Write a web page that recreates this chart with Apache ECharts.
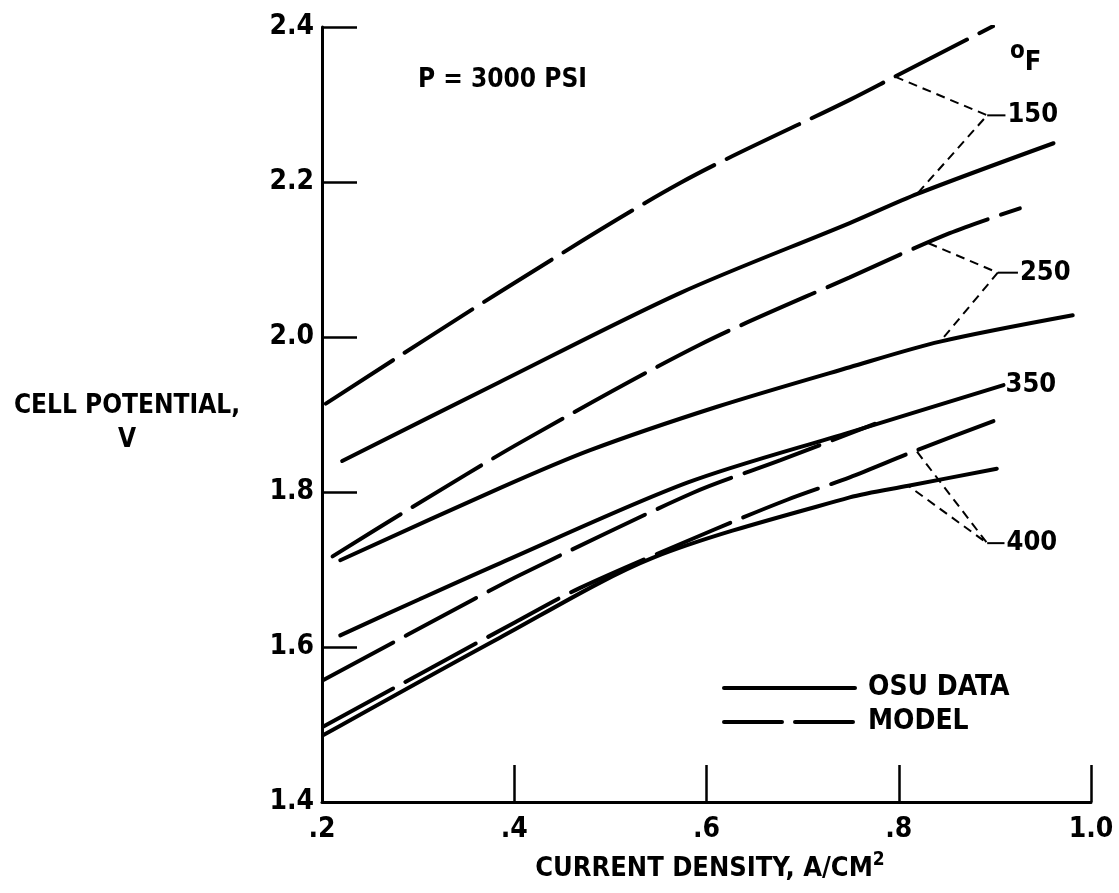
<!DOCTYPE html>
<html lang="en">
<head>
<meta charset="UTF-8">
<title>Cell potential vs current density</title>
<script src="https://cdn.jsdelivr.net/npm/echarts@6/dist/echarts.min.js"></script>
<style>
  html, body { margin: 0; padding: 0; background: #fff; }
  #main { width: 1119px; height: 893px; }
</style>
</head>
<body>
<div id="main"></div>
<script type="text/javascript">
// values: [current density A/cm2, cell potential V]
var osu150   = [[0.221,1.840],[0.385,1.942],[0.573,2.057],[0.749,2.147],[0.820,2.185],[0.961,2.250]];
var model150 = [[0.204,1.914],[0.385,2.058],[0.573,2.199],[0.749,2.306],[0.796,2.336],[0.898,2.401]];
var osu250   = [[0.219,1.712],[0.385,1.805],[0.479,1.854],[0.611,1.910],[0.749,1.961],[0.843,1.994],[0.981,2.028]];
var model250 = [[0.211,1.717],[0.292,1.779],[0.408,1.865],[0.593,1.990],[0.749,2.077],[0.853,2.134],[0.926,2.166]];
var osu350   = [[0.219,1.615],[0.302,1.662],[0.385,1.708],[0.580,1.812],[0.749,1.877],[0.909,1.938]];
var model350 = [[0.201,1.557],[0.357,1.661],[0.406,1.693],[0.586,1.799],[0.677,1.841],[0.775,1.888]];
var osu400   = [[0.201,1.486],[0.385,1.612],[0.544,1.715],[0.749,1.793],[0.810,1.808],[0.902,1.830]];
var model400 = [[0.201,1.497],[0.401,1.632],[0.468,1.676],[0.607,1.751],[0.684,1.790],[0.749,1.819],[0.819,1.854],[0.902,1.893]];

// leader lines: model curve -> junction -> data curve, then short tick to the label
var leader150 = [[0.796,2.336],[0.892,2.286],[0.820,2.186]];
var leader250 = [[0.831,2.121],[0.903,2.083],[0.843,1.994]];
var leader400 = [[0.819,1.852],[0.892,1.734],[0.810,1.808]];
var tick150 = [[0.892,2.286],[0.911,2.286]];
var tick250 = [[0.903,2.083],[0.924,2.083]];
var tick400 = [[0.892,1.734],[0.910,1.734]];

var tempLabels = ['150', '250', '350', '400'];
var tempLabelAt = [[0.911,2.286],[0.924,2.083],[0.909,1.938],[0.910,1.734]];

var xTicks = ['.2', '.4', '.6', '.8', '1.0'];
var legendNames = ['OSU DATA', 'MODEL'];

var FONT = '"DejaVu Sans Condensed", "Liberation Sans Narrow", "Liberation Sans", sans-serif';
var myChart = echarts.init(document.getElementById('main'));

function curve(name, data, dashed) {
    return {
        name: name,
        type: 'line',
        data: data,
        smooth: 0.3,
        symbol: 'none',
        itemStyle: { color: '#000' },
        lineStyle: {
            color: '#000',
            width: 4,
            cap: 'round',
            type: dashed ? [80, 14] : 'solid'
        },
        silent: true
    };
}
function leader(data, dashed) {
    return {
        type: 'line',
        data: data,
        symbol: 'none',
        lineStyle: { color: '#000', width: 2, type: dashed ? [9, 6] : 'solid' },
        silent: true
    };
}

var option = {
    backgroundColor: '#fff',
    animation: false,
    grid: { left: 322, right: 28, top: 27, bottom: 91, containLabel: false, outerBoundsMode: 'none' },
    xAxis: {
        type: 'value',
        min: 0.2, max: 1.0, interval: 0.2,
        axisLine: { lineStyle: { color: '#000', width: 3 } },
        axisTick: { inside: true, length: 37, lineStyle: { color: '#000', width: 2.5 } },
        splitLine: { show: false },
        axisLabel: {
            margin: 14,
            color: '#000', fontFamily: FONT, fontWeight: 'bold', fontSize: 28,
            formatter: function (v) { return xTicks[Math.round((v - 0.2) / 0.2)]; }
        }
    },
    yAxis: {
        type: 'value',
        min: 1.4, max: 2.4, interval: 0.2,
        axisLine: { show: true, lineStyle: { color: '#000', width: 3 } },
        axisTick: { show: true, inside: true, length: 35, lineStyle: { color: '#000', width: 2.5 } },
        splitLine: { show: false },
        axisLabel: {
            margin: 8,
            color: '#000', fontFamily: FONT, fontWeight: 'bold', fontSize: 28,
            formatter: function (v) { return v.toFixed(1); }
        }
    },
    legend: {
        orient: 'vertical',
        left: 717, top: 669,
        itemWidth: 131, itemHeight: 6, itemGap: 6,
        selectedMode: false,
        itemStyle: { color: '#000', opacity: 0 },
        textStyle: { color: '#000', fontFamily: FONT, fontWeight: 'bold', fontSize: 28, padding: [0, 0, 0, 8] },
        data: [
            { name: legendNames[0], lineStyle: { color: '#000', width: 4, type: 'solid' } },
            { name: legendNames[1], lineStyle: { color: '#000', width: 4, type: [58, 13] } }
        ]
    },
    graphic: [
        { type: 'text', left: 418, top: 67, style: { text: 'P = 3000 PSI', fill: '#000', font: 'bold 26px ' + FONT } },
        { type: 'text', x: 127, y: 389, style: { text: 'CELL POTENTIAL,\nV', fill: '#000', font: 'bold 26px ' + FONT, align: 'center', verticalAlign: 'top', lineHeight: 34 } },
        { type: 'text', x: 710, y: 851, style: {
            text: '{a|CURRENT DENSITY, A/CM}{s|2}', align: 'center', verticalAlign: 'top',
            rich: {
                a: { fontSize: 27, fontFamily: FONT, fontWeight: 'bold', fill: '#000', verticalAlign: 'bottom' },
                s: { fontSize: 19, fontFamily: FONT, fontWeight: 'bold', fill: '#000', verticalAlign: 'bottom', padding: [0, 0, 12, 0] }
            }
        } },
        { type: 'text', x: 1010, y: 40, style: {
            text: '{o|o}{f|F}', align: 'left', verticalAlign: 'top',
            rich: {
                o: { fontSize: 24, fontFamily: FONT, fontWeight: 'bold', fill: '#000', verticalAlign: 'bottom', padding: [0, 0, 12, 0] },
                f: { fontSize: 27, fontFamily: FONT, fontWeight: 'bold', fill: '#000', verticalAlign: 'bottom' }
            }
        } }
    ],
    series: [
        curve(legendNames[0], osu150, false),
        curve(legendNames[1], model150, true),
        curve(legendNames[0], osu250, false),
        curve(legendNames[1], model250, true),
        curve(legendNames[0], osu350, false),
        curve(legendNames[1], model350, true),
        curve(legendNames[0], osu400, false),
        curve(legendNames[1], model400, true),
        leader(leader150, true),
        leader(leader250, true),
        leader(leader400, true),
        leader(tick150, false),
        leader(tick250, false),
        leader(tick400, false),
        {
            type: 'scatter',
            symbolSize: 0,
            itemStyle: { color: '#000' },
            silent: true,
            data: tempLabels.map(function (t, i) { return { name: t, value: tempLabelAt[i] }; }),
            label: {
                show: true, position: 'right', distance: 2,
                formatter: '{b}',
                color: '#000', opacity: 1, textBorderWidth: 0, fontFamily: FONT, fontWeight: 'bold', fontSize: 27
            }
        }
    ]
};

myChart.setOption(option);
</script>
</body>
</html>
